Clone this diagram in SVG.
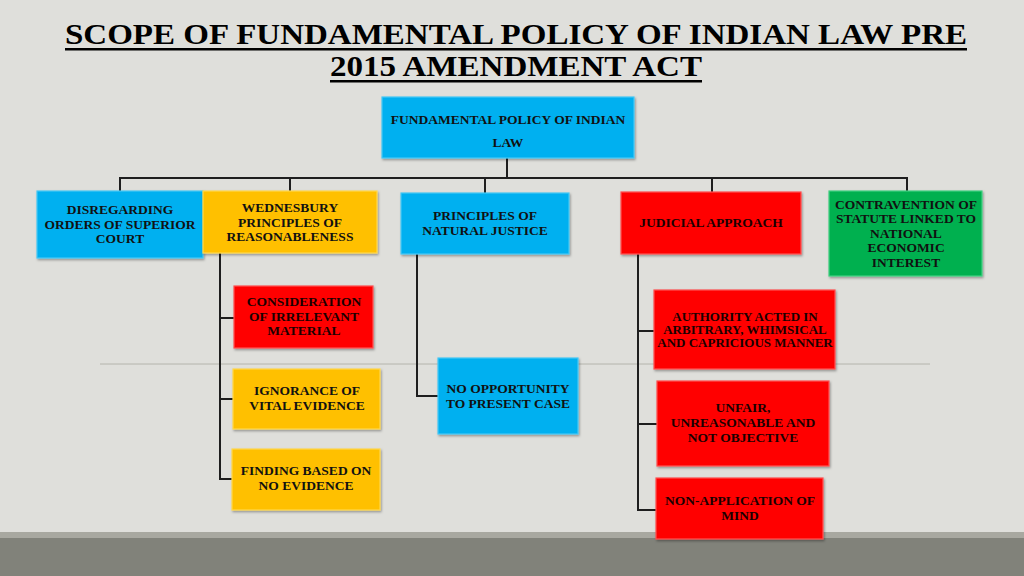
<svg xmlns="http://www.w3.org/2000/svg" width="1024" height="576" viewBox="0 0 1024 576">
<defs>
<filter id="sh" x="-10%" y="-10%" width="125%" height="130%">
<feDropShadow dx="1" dy="1.5" stdDeviation="1" flood-color="#000" flood-opacity="0.35"/>
</filter>
</defs>
<style>
.title{font-family:"Liberation Serif","Times New Roman",serif;font-weight:bold;font-size:30px;fill:#000}
.t{font-family:"Liberation Serif","Times New Roman",serif;font-weight:bold;font-size:13.5px;text-anchor:middle;fill:#111}
.tr{fill:#1a0000}
.blue{fill:#00b0f0;stroke:#45c8f5;stroke-width:1.2;filter:url(#sh)}
.yel{fill:#ffc000;stroke:#ffd84d;stroke-width:1.2;filter:url(#sh)}
.red{fill:#ff0000;stroke:#ff5050;stroke-width:1.2;filter:url(#sh)}
.grn{fill:#00b050;stroke:#40d080;stroke-width:1.2;filter:url(#sh)}
.c{fill:none;stroke:#1e1e1e;stroke-width:2}
</style>
<rect x="0" y="0" width="1024" height="576" fill="#dfdfdb"/>
<rect x="0" y="532" width="1024" height="6" fill="#a8a8a0"/>
<rect x="0" y="538" width="1024" height="38" fill="#81827a"/>
<line x1="100" y1="364" x2="930" y2="364" stroke="#b4b4ac" stroke-width="1"/>

<g id="title">
<text class="title" x="65" y="44" textLength="902" lengthAdjust="spacingAndGlyphs">SCOPE OF FUNDAMENTAL POLICY OF INDIAN LAW PRE</text>
<rect x="65" y="48" width="902" height="2.5" fill="#000"/>
<text class="title" x="330" y="76" textLength="372" lengthAdjust="spacingAndGlyphs">2015 AMENDMENT ACT</text>
<rect x="330" y="80" width="372" height="2.5" fill="#000"/>
</g>

<g id="connectors">
<path class="c" d="M507 158 V179" stroke-width="3"/>
<path class="c" d="M120 191 V178 H907 V191"/>
<path class="c" d="M290 178 V191"/>
<path class="c" d="M485 178 V193"/>
<path class="c" d="M712 178 V192"/>
<path class="c" d="M220 253 V479 H232 M220 318 H234 M220 399 H233"/>
<path class="c" d="M417 254 V396 H438"/>
<path class="c" d="M638 254 V510 H656 M638 331 H654 M638 424 H657"/>
</g>

<g id="n-root">
<rect class="blue" x="382" y="97" width="252" height="61"/>
<text class="t" x="508" y="124">FUNDAMENTAL POLICY OF INDIAN</text>
<text class="t" x="508" y="147">LAW</text>
</g>

<g id="n-disregarding">
<rect class="blue" x="37" y="191" width="166" height="67"/>
<text class="t" x="120" y="214">DISREGARDING</text>
<text class="t" x="120" y="228.5">ORDERS OF SUPERIOR</text>
<text class="t" x="120" y="243">COURT</text>
</g>

<g id="n-wednesbury">
<rect class="yel" x="203" y="191" width="174" height="62"/>
<text class="t" x="290" y="212">WEDNESBURY</text>
<text class="t" x="290" y="226.5">PRINCIPLES OF</text>
<text class="t" x="290" y="241">REASONABLENESS</text>
</g>

<g id="n-natural">
<rect class="blue" x="401" y="193" width="168" height="61"/>
<text class="t" x="485" y="220">PRINCIPLES OF</text>
<text class="t" x="485" y="235">NATURAL JUSTICE</text>
</g>

<g id="n-judicial">
<rect class="red" x="621" y="192" width="180" height="62"/>
<text class="t tr" x="711" y="227">JUDICIAL APPROACH</text>
</g>

<g id="n-contravention">
<rect class="grn" x="829" y="191" width="153" height="85"/>
<text class="t" x="906" y="209">CONTRAVENTION OF</text>
<text class="t" x="906" y="223">STATUTE LINKED TO</text>
<text class="t" x="906" y="237.5">NATIONAL</text>
<text class="t" x="906" y="252">ECONOMIC</text>
<text class="t" x="906" y="266.5">INTEREST</text>
</g>

<g id="n-consideration">
<rect class="red" x="234" y="286" width="139" height="62"/>
<text class="t tr" x="304" y="306">CONSIDERATION</text>
<text class="t tr" x="304" y="320.5">OF IRRELEVANT</text>
<text class="t tr" x="304" y="335">MATERIAL</text>
</g>

<g id="n-ignorance">
<rect class="yel" x="233" y="369" width="147" height="60"/>
<text class="t" x="307" y="395">IGNORANCE OF</text>
<text class="t" x="307" y="409.5">VITAL EVIDENCE</text>
</g>

<g id="n-finding">
<rect class="yel" x="232" y="449" width="148" height="61"/>
<text class="t" x="306" y="475">FINDING BASED ON</text>
<text class="t" x="306" y="490">NO EVIDENCE</text>
</g>

<g id="n-opportunity">
<rect class="blue" x="438" y="358" width="140" height="76"/>
<text class="t" x="508" y="393">NO OPPORTUNITY</text>
<text class="t" x="508" y="407.5">TO PRESENT CASE</text>
</g>

<g id="n-authority">
<rect class="red" x="654" y="290" width="181" height="79"/>
<text class="t tr" x="745" y="321" style="font-size:13px">AUTHORITY ACTED IN</text>
<text class="t tr" x="745" y="334" style="font-size:13px">ARBITRARY, WHIMSICAL</text>
<text class="t tr" x="745" y="347" style="font-size:13px">AND CAPRICIOUS MANNER</text>
</g>

<g id="n-unfair">
<rect class="red" x="657" y="381" width="172" height="85"/>
<text class="t tr" x="743" y="412">UNFAIR,</text>
<text class="t tr" x="743" y="427">UNREASONABLE AND</text>
<text class="t tr" x="743" y="442">NOT OBJECTIVE</text>
</g>

<g id="n-nonapplication">
<rect class="red" x="656" y="478" width="167" height="61"/>
<text class="t tr" x="740" y="505">NON-APPLICATION OF</text>
<text class="t tr" x="740" y="520">MIND</text>
</g>
</svg>
